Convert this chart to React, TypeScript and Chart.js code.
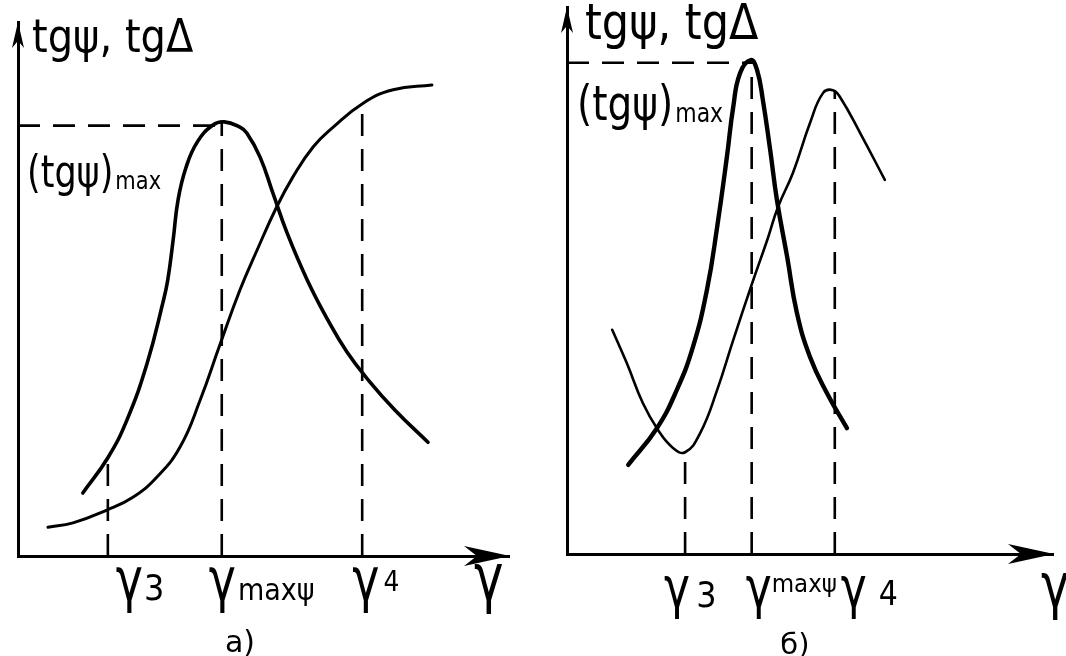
import React, { useEffect, useRef } from "react";
import { Chart, registerables } from "chart.js";

Chart.register(...registerables);

// ---------- Panel а) ----------
const A_PSI_X = [1.32, 1.83, 2.22, 2.63, 2.95, 3.05, 3.16, 3.26, 3.42, 3.65, 3.97, 4.2, 4.52, 4.66, 4.93, 5.19, 5.48, 5.89, 6.31, 6.7, 7.13, 7.68, 8.35];
const A_PSI_Y = [1.18, 1.84, 2.55, 3.61, 4.74, 5.17, 5.92, 6.67, 7.27, 7.75, 8.07, 8.13, 8.03, 7.92, 7.47, 6.8, 6.05, 5.17, 4.42, 3.82, 3.3, 2.73, 2.13];
const A_DELTA_X = [0.61, 1.12, 1.81, 2.34, 2.83, 3.3, 3.71, 4.11, 4.52, 4.87, 5.27, 5.6, 6.01, 6.42, 7.03, 7.64, 8.43];
const A_DELTA_Y = [0.54, 0.62, 0.86, 1.1, 1.48, 2.04, 2.92, 3.95, 4.98, 5.73, 6.54, 7.1, 7.66, 8.03, 8.48, 8.73, 8.82];
const A_MARK_X = [1.83, 4.15, 7.01]; // γ3, γmaxψ, γ4
const A_MARK_TOP = [1.84, 8.13, 8.48];
const A_PEAK = 8.06; // (tgψ)max
const A_X_MAX = 10;
const A_Y_MAX = 10;

// ---------- Panel б) ----------
const B_PSI_X = [1.26, 1.85, 2.26, 2.59, 2.88, 3.09, 3.29, 3.42, 3.56, 3.78, 3.91, 4.03, 4.18, 4.32, 4.53, 4.73, 5.0, 5.35, 5.76];
const B_PSI_Y = [1.63, 2.3, 3.0, 3.78, 4.83, 5.98, 7.26, 8.17, 8.79, 9.03, 8.85, 8.3, 7.39, 6.47, 5.43, 4.41, 3.6, 2.94, 2.3];
const B_DELTA_X = [0.93, 1.23, 1.56, 1.87, 2.18, 2.43, 2.74, 3.09, 3.42, 3.81, 4.12, 4.34, 4.65, 5.0, 5.27, 5.47, 5.62, 6.03, 6.54];
const B_DELTA_Y = [4.1, 3.49, 2.76, 2.27, 1.94, 1.86, 2.21, 3.0, 3.91, 4.95, 5.74, 6.34, 6.97, 7.88, 8.43, 8.48, 8.35, 7.7, 6.84];
const B_MARK_X = [2.43, 3.8, 5.51]; // γ3, γmaxψ, γ4
const B_MARK_TOP = [1.86, 9.03, 8.48];
const B_PEAK = 8.98; // (tgψ)max
const B_X_MAX = 10;
const B_Y_MAX = 10;

// ---------- Text ----------
const TICK_MAIN = ["γ", "γ", "γ"];
const TICK_SUB = ["3", "maxψ", "4"];
const AXIS_NAME = "γ";
const Y_TITLE = "tgψ, tgΔ";
const MAX_MAIN = "(tgψ)";
const MAX_SUB = "max";
const PANEL_A = "а)";
const PANEL_B = "б)";

const FONT = '"DejaVu Sans", "Noto Sans", sans-serif';

const pts = (xs: number[], ys: number[]) => xs.map((x, i) => ({ x, y: ys[i] }));

function drawArrowRight(ctx: CanvasRenderingContext2D, tx: number, ty: number, len: number, half: number) {
  ctx.beginPath();
  ctx.moveTo(tx, ty);
  ctx.lineTo(tx - len, ty - half);
  ctx.lineTo(tx - len * 0.72, ty);
  ctx.lineTo(tx - len, ty + half);
  ctx.closePath();
  ctx.fill();
}
function drawArrowUp(ctx: CanvasRenderingContext2D, tx: number, ty: number, len: number, half: number) {
  ctx.beginPath();
  ctx.moveTo(tx, ty);
  ctx.lineTo(tx - half, ty + len);
  ctx.lineTo(tx, ty + len * 0.72);
  ctx.lineTo(tx + half, ty + len);
  ctx.closePath();
  ctx.fill();
}
// draws text stretched vertically (hand lettering is tall and narrow)
function drawTall(ctx: CanvasRenderingContext2D, text: string, x: number, base: number, size: number, stretch: number) {
  ctx.save();
  ctx.font = `${size}px ${FONT}`;
  ctx.textAlign = "left";
  ctx.textBaseline = "alphabetic";
  ctx.translate(x, base);
  ctx.scale(1, stretch);
  ctx.fillText(text, 0, 0);
  ctx.restore();
  ctx.font = `${size}px ${FONT}`;
  return ctx.measureText(text).width;
}

const sketchPlugin = {
  id: "sketch",
  afterDraw(chart: any, _args: any, o: any) {
    const { ctx, chartArea: ca, scales } = chart;
    const xs = scales.x;
    ctx.save();
    ctx.fillStyle = "#000";
    drawArrowRight(ctx, ca.right + 1, ca.bottom, 46, 10);
    drawArrowUp(ctx, ca.left, ca.top, 26, 6);
    drawTall(ctx, Y_TITLE, o.yTitleX, o.yTitleBase, o.yTitleSize, 1.15);
    const w = drawTall(ctx, MAX_MAIN, o.maxX, o.maxBase, o.maxSize, 1.25);
    drawTall(ctx, MAX_SUB, o.maxX + w + 2, o.maxBase + 2, o.maxSubSize, 1.2);
    o.marks.forEach((m: number, i: number) => {
      const px = xs.getPixelForValue(m) + o.labelDx[i];
      const mw = drawTall(ctx, TICK_MAIN[i], px, o.labelBase, o.mainSize, 1.3);
      drawTall(ctx, TICK_SUB[i], px + mw + o.subGap[i], o.labelBase + o.subDy[i], o.subSizes[i], 1.1);
    });
    drawTall(ctx, AXIS_NAME, ca.right + o.axisNameDx, o.labelBase, o.mainSize + 4, 1.3);
    ctx.font = `${o.panelSize}px ${FONT}`;
    ctx.textAlign = "center";
    ctx.textBaseline = "alphabetic";
    ctx.fillText(o.panel, xs.getPixelForValue(o.panelX), o.panelBase);
    ctx.restore();
  },
};

function buildConfig(p: any) {
  const dash = [22, 13];
  const refSets = p.markX.map((m: number, i: number) => ({
    data: [
      { x: m, y: 0 },
      { x: m, y: p.markTop[i] },
    ],
    borderColor: "#000",
    borderWidth: 2.6,
    borderDash: dash,
    pointRadius: 0,
    tension: 0,
  }));
  const hLine = {
    data: [
      { x: 0, y: p.peak },
      { x: p.markX[1], y: p.peak },
    ],
    borderColor: "#000",
    borderWidth: 2.6,
    borderDash: dash,
    pointRadius: 0,
    tension: 0,
  };
  const curve = (data: any, w: number) => ({
    data,
    borderColor: "#000",
    borderWidth: w,
    pointRadius: 0,
    tension: 0.45,
    borderCapStyle: "round",
    borderJoinStyle: "round",
    fill: false,
  });
  const axis = (max: number) => ({
    type: "linear",
    min: 0,
    max,
    display: true,
    grid: { display: false, drawTicks: false },
    ticks: { display: false },
    border: { display: true, color: "#000", width: 3 },
  });
  return {
    type: "line",
    data: {
      datasets: [
        ...refSets,
        hLine,
        curve(pts(p.psiX, p.psiY), p.psiW),
        curve(pts(p.deltaX, p.deltaY), p.deltaW),
      ],
    },
    options: {
      responsive: false,
      animation: false,
      devicePixelRatio: 1,
      layout: { padding: p.padding },
      plugins: {
        legend: { display: false },
        tooltip: { enabled: false },
        sketch: p.sketch,
      },
      scales: { x: axis(p.xMax), y: axis(p.yMax) },
    },
    plugins: [sketchPlugin],
  };
}

const PANEL_A_CFG = {
  psiX: A_PSI_X,
  psiY: A_PSI_Y,
  deltaX: A_DELTA_X,
  deltaY: A_DELTA_Y,
  markX: A_MARK_X,
  markTop: A_MARK_TOP,
  peak: A_PEAK,
  xMax: A_X_MAX,
  yMax: A_Y_MAX,
  psiW: 3.6,
  deltaW: 3,
  padding: { left: 18, top: 22, right: 24, bottom: 100 },
  sketch: {
    yTitleX: 32,
    yTitleBase: 52,
    yTitleSize: 40,
    maxX: 27,
    maxBase: 187,
    maxSize: 35,
    maxSubSize: 21,
    marks: A_MARK_X,
    labelDx: [8, -13, -10],
    labelBase: 600,
    mainSize: 46,
    subSizes: [32, 27, 25],
    subDy: [0, 0, -9],
    subGap: [1, 2, 4],
    axisNameDx: -35,
    panel: PANEL_A,
    panelX: 4.52,
    panelBase: 652,
    panelSize: 30,
  },
};

const PANEL_B_CFG = {
  psiX: B_PSI_X,
  psiY: B_PSI_Y,
  deltaX: B_DELTA_X,
  deltaY: B_DELTA_Y,
  markX: B_MARK_X,
  markTop: B_MARK_TOP,
  peak: B_PEAK,
  xMax: B_X_MAX,
  yMax: B_Y_MAX,
  psiW: 4.4,
  deltaW: 2.6,
  padding: { left: 34, top: 7, right: 13, bottom: 102 },
  sketch: {
    yTitleX: 52,
    yTitleBase: 39,
    yTitleSize: 43,
    maxX: 44,
    maxBase: 120,
    maxSize: 39,
    maxSubSize: 22,
    marks: B_MARK_X,
    labelDx: [-21, -6, 6],
    labelBase: 607,
    mainSize: 44,
    subSizes: [32, 23, 30],
    subDy: [0, -15, -2],
    subGap: [6, 0, 12],
    axisNameDx: -12,
    panel: PANEL_B,
    panelX: 4.69,
    panelBase: 654,
    panelSize: 29,
  },
};

function Panel({ cfg, left }: { cfg: any; left: number }) {
  const ref = useRef<HTMLCanvasElement | null>(null);
  useEffect(() => {
    if (!ref.current) return;
    const chart = new Chart(ref.current, buildConfig(cfg) as any);
    return () => chart.destroy();
  }, [cfg]);
  return (
    <canvas
      ref={ref}
      width={533}
      height={656}
      style={{ position: "absolute", left, top: 0, width: 533, height: 656, display: "block" }}
    />
  );
}

export default function App() {
  return (
    <div
      style={{
        position: "fixed",
        left: 0,
        top: 0,
        width: 1066,
        height: 656,
        background: "#fff",
        overflow: "hidden",
      }}
    >
      <Panel cfg={PANEL_A_CFG} left={0} />
      <Panel cfg={PANEL_B_CFG} left={533} />
    </div>
  );
}
